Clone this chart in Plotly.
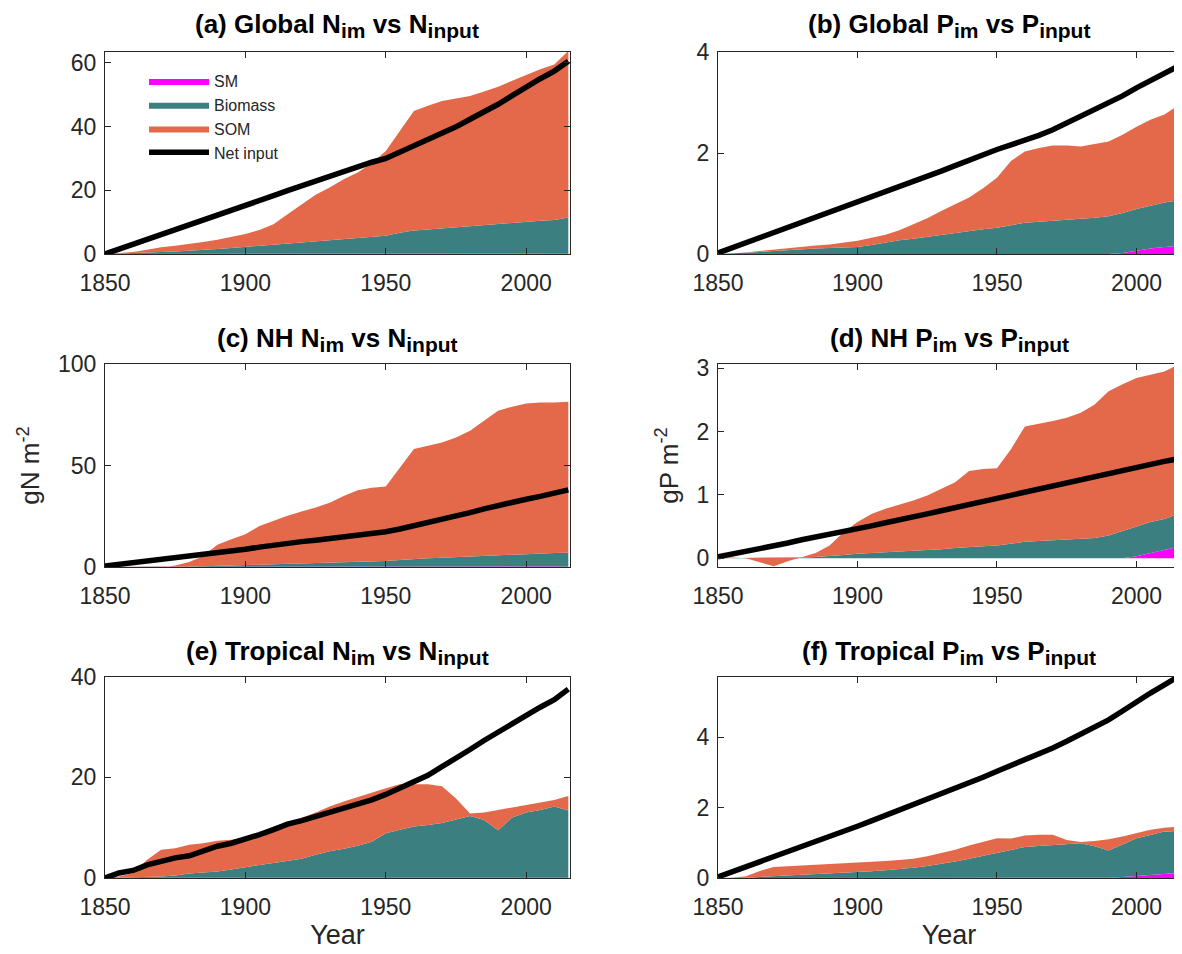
import plotly.graph_objects as go

YEARS = [1850, 1855, 1860, 1865, 1870, 1875, 1880, 1885, 1890, 1895,
         1900, 1905, 1910, 1915, 1920, 1925, 1930, 1935, 1940, 1945,
         1950, 1955, 1960, 1965, 1970, 1975, 1980, 1985, 1990, 1995,
         2000, 2005, 2010, 2015]

# (a) Global N
a_sm = [0, 0, 0, 0, 0, 0, 0, 0, 0, 0, 0.05, 0.05, 0.05, 0.05, 0.1, 0.1, 0.1, 0.1, 0.1, 0.1,
        0.1, 0.1, 0.1, 0.1, 0.1, 0.1, 0.1, 0.1, 0.1, 0.15, 0.15, 0.2, 0.2, 0.25]
a_bio = [0, 0.1, 0.2, 0.4, 0.6, 0.8, 1.0, 1.3, 1.6, 1.9, 2.2, 2.5, 2.8, 3.1, 3.4, 3.8, 4.2, 4.6, 5.0, 5.3,
         5.6, 6.6, 7.3, 7.6, 7.9, 8.2, 8.6, 9.0, 9.3, 9.6, 10.0, 10.2, 10.5, 11.2]
a_som = [0, 0.1, 0.4, 0.9, 1.5, 1.8, 2.1, 2.5, 2.9, 3.4, 4.0, 5.0, 6.5, 9.3, 12.1, 14.7, 16.6, 18.8, 20.5, 23.1,
         26.6, 31.9, 37.5, 38.8, 40.0, 40.5, 40.9, 41.9, 43.1, 44.6, 46.1, 47.6, 48.8, 52.3]
a_net = [0, 1.5, 3.1, 4.7, 6.3, 7.6, 8.9, 10.4, 12.0, 13.6, 15.1, 16.7, 18.3, 19.9, 21.4, 23.0, 24.5, 26.1, 27.7, 28.8,
         30.0, 31.9, 33.9, 35.7, 37.6, 39.9, 42.3, 44.6, 47.0, 49.7, 52.5, 55.0, 57.4, 60.5]

# (b) Global P
b_sm = [0] * 29 + [0.02, 0.07, 0.11, 0.14, 0.16]
b_bio = [0, 0.01, 0.02, 0.04, 0.06, 0.08, 0.09, 0.11, 0.12, 0.13, 0.14, 0.18, 0.23, 0.27, 0.30, 0.34, 0.38, 0.42, 0.46, 0.49,
         0.52, 0.57, 0.62, 0.64, 0.66, 0.67, 0.69, 0.72, 0.75, 0.79, 0.82, 0.85, 0.88, 0.90]
b_som = [0, 0, 0.01, 0.02, 0.03, 0.04, 0.05, 0.06, 0.07, 0.09, 0.12, 0.14, 0.15, 0.20, 0.29, 0.37, 0.47, 0.56, 0.66, 0.81,
         0.99, 1.27, 1.41, 1.46, 1.49, 1.48, 1.44, 1.46, 1.48, 1.55, 1.63, 1.70, 1.74, 1.88]
b_net = [0.02, 0.12, 0.22, 0.32, 0.42, 0.52, 0.62, 0.72, 0.82, 0.92, 1.02, 1.12, 1.22, 1.32, 1.42, 1.53, 1.64, 1.75, 1.86, 1.97,
         2.07, 2.16, 2.25, 2.35, 2.46, 2.59, 2.72, 2.85, 2.98, 3.13, 3.29, 3.43, 3.57, 3.72]

# (c) NH N
c_sm = [0, 0, 0, 0, 0.2, 0.2, 0.2] + [0.3] * 27
c_bio = [0, 0, 0, 0, 0, 0, 0.1, 0.1, 0.2, 0.4, 0.6, 0.8, 1.0, 1.2, 1.4, 1.6, 1.8, 2.0, 2.2, 2.4,
         2.6, 3.2, 3.7, 4.0, 4.3, 4.6, 4.9, 5.3, 5.7, 6.0, 6.3, 6.5, 6.6, 6.7]
c_som = [0, 0, 0, -0.5, -0.6, 0.6, 2.2, 5.0, 10.4, 13.0, 15.2, 19.1, 21.4, 23.7, 25.6, 27.4, 29.6, 32.7, 35.3, 36.4,
         36.7, 45.5, 54.1, 55.4, 56.7, 58.9, 61.9, 66.4, 71.0, 72.7, 74.0, 74.2, 74.1, 74.4]
c_net = [0.5, 1.3, 2.1, 3.0, 3.8, 4.5, 5.1, 5.9, 6.7, 7.7, 8.7, 9.8, 10.9, 11.7, 12.5, 13.2, 14.0, 14.8, 15.6, 16.5,
         17.4, 18.7, 20.2, 21.8, 23.5, 25.1, 26.8, 28.6, 30.4, 31.9, 33.4, 34.8, 36.2, 38.0]

# (d) NH P
d_sm = [0] * 19 + [0.01, 0.01] + [0] * 9 + [0.03, 0.08, 0.14, 0.18]
d_bio = [0, 0, 0, 0, 0, 0, 0.01, 0.02, 0.03, 0.05, 0.07, 0.08, 0.09, 0.10, 0.12, 0.13, 0.14, 0.16, 0.18, 0.18,
         0.19, 0.23, 0.26, 0.27, 0.28, 0.29, 0.30, 0.32, 0.36, 0.43, 0.48, 0.49, 0.48, 0.52]
d_som = [0, 0.01, 0, -0.07, -0.13, -0.05, 0.01, 0.06, 0.17, 0.36, 0.50, 0.62, 0.69, 0.74, 0.79, 0.86, 0.95, 1.04, 1.20, 1.22,
         1.22, 1.49, 1.82, 1.85, 1.89, 1.93, 2.00, 2.11, 2.28, 2.32, 2.34, 2.33, 2.33, 2.36]
d_net = [0.02, 0.06, 0.11, 0.15, 0.20, 0.24, 0.29, 0.33, 0.37, 0.42, 0.46, 0.51, 0.56, 0.60, 0.65, 0.70, 0.75, 0.80, 0.84, 0.89,
         0.94, 0.99, 1.04, 1.09, 1.14, 1.19, 1.24, 1.29, 1.34, 1.38, 1.43, 1.48, 1.53, 1.57]

# (e) Tropical N
e_sm = [0] + [0.05] * 33
e_bio = [0, 0, 0.05, 0.15, 0.25, 0.45, 0.85, 1.05, 1.25, 1.65, 2.15, 2.55, 2.95, 3.35, 3.75, 4.55, 5.25, 5.75, 6.35, 7.15,
         8.85, 9.55, 10.15, 10.45, 10.85, 11.55, 12.25, 11.45, 9.45, 11.95, 12.95, 13.45, 14.15, 13.35]
e_som = [0, 0.25, 0.9, 3.4, 5.3, 5.4, 5.7, 5.8, 6.1, 5.9, 5.9, 6.4, 7.2, 7.6, 8.1, 8.4, 8.9, 9.4, 9.7, 9.7,
         8.9, 9.0, 8.4, 8.1, 7.3, 4.2, 0.5, 1.5, 4.0, 2.0, 1.4, 1.5, 1.3, 2.9]
e_net = [0, 1.0, 1.5, 2.6, 3.3, 4.0, 4.4, 5.3, 6.3, 6.9, 7.7, 8.6, 9.6, 10.7, 11.4, 12.2, 13.0, 13.8, 14.7, 15.5,
         16.6, 17.8, 19.1, 20.4, 22.1, 23.7, 25.5, 27.3, 29.0, 30.6, 32.3, 33.9, 35.4, 37.5]

# (f) Tropical P
f_sm = [0] * 28 + [0.01, 0.03, 0.06, 0.09, 0.12, 0.14]
f_bio = [0, 0, 0.01, 0.03, 0.05, 0.06, 0.08, 0.10, 0.11, 0.13, 0.16, 0.19, 0.22, 0.25, 0.29, 0.34, 0.40, 0.47, 0.55, 0.63,
         0.71, 0.79, 0.88, 0.91, 0.94, 0.97, 0.99, 0.90, 0.77, 0.92, 1.07, 1.13, 1.20, 1.16]
f_som = [0, 0.01, 0.04, 0.17, 0.26, 0.27, 0.27, 0.27, 0.27, 0.27, 0.26, 0.26, 0.26, 0.26, 0.26, 0.28, 0.30, 0.33, 0.37, 0.40,
         0.42, 0.33, 0.33, 0.32, 0.29, 0.11, 0.03, 0.15, 0.32, 0.23, 0.15, 0.15, 0.11, 0.16]
f_net = [0.03, 0.17, 0.32, 0.46, 0.61, 0.75, 0.89, 1.04, 1.18, 1.33, 1.47, 1.62, 1.77, 1.92, 2.07, 2.22, 2.38, 2.54, 2.70, 2.86,
         3.03, 3.19, 3.36, 3.52, 3.69, 3.88, 4.07, 4.27, 4.49, 4.74, 5.01, 5.25, 5.48, 5.72]

SUB = '<sub><span style="font-size:21px">%s</span></sub>'
TITLES = ["(a) Global N" + SUB % "im" + " vs N" + SUB % "input",
          "(b) Global P" + SUB % "im" + " vs P" + SUB % "input",
          "(c) NH N" + SUB % "im" + " vs N" + SUB % "input",
          "(d) NH P" + SUB % "im" + " vs P" + SUB % "input",
          "(e) Tropical N" + SUB % "im" + " vs N" + SUB % "input",
          "(f) Tropical P" + SUB % "im" + " vs P" + SUB % "input"]
SERIES_NAMES = ["SM", "Biomass", "SOM", "Net input"]
X_TICKS = [1850, 1900, 1950, 2000]
Y_TICKS = [[0, 20, 40, 60], [0, 2, 4], [0, 50, 100], [0, 1, 2, 3], [0, 20, 40], [0, 2, 4]]
Y_RANGES = [[0, 63.4], [0, 4], [0, 100], [-0.14, 3.07], [0, 40], [0, 5.72]]
Y_TITLES = [None, None, "gN m<sup>-2</sup>", "gP m<sup>-2</sup>", None, None]
X_TITLES = [None, None, None, None, "Year", "Year"]

PANELS = [(a_sm, a_bio, a_som, a_net), (b_sm, b_bio, b_som, b_net),
          (c_sm, c_bio, c_som, c_net), (d_sm, d_bio, d_som, d_net),
          (e_sm, e_bio, e_som, e_net), (f_sm, f_bio, f_som, f_net)]

COLORS = ["#FF00FF", "#3B7F80", "#E4694A"]
OFF = 8  # page body margin
W, H = 1182 - OFF, 954 - OFF
def px_x(a, b):
    return [(a - OFF) / W, (b - OFF) / W]
def px_y(top, bottom):
    return [1 - (bottom - OFF) / H, 1 - (top - OFF) / H]
XDOM = [px_x(105, 570), px_x(718, 1180)]
YDOM = [px_y(52, 254), px_y(364, 567), px_y(676.5, 878)]
TITLE_SHIFT = [8, 6, 6]
FONT = "Liberation Sans, Arial, Helvetica, sans-serif"
AXC = "#262626"

fig = go.Figure()
layout = dict(width=W, height=H, margin=dict(l=0, r=0, t=0, b=0, autoexpand=False),
              plot_bgcolor="white", paper_bgcolor="white",
              font=dict(family=FONT, size=23, color=AXC), showlegend=True)
annotations = []

for i, (sm, bio, som, net) in enumerate(PANELS):
    r, c = divmod(i, 2)
    sfx = "" if i == 0 else str(i + 1)
    xa, ya = "x" + sfx, "y" + sfx
    show = (i == 0)
    for name, vals, col in zip(SERIES_NAMES[:3], (sm, bio, som), COLORS):
        fig.add_trace(go.Scatter(x=YEARS, y=vals, name=name, stackgroup="s%d" % i,
                                 mode="lines", line=dict(width=0, color=col),
                                 fillcolor=col, xaxis=xa, yaxis=ya,
                                 showlegend=show, legendgroup=name))
    fig.add_trace(go.Scatter(x=YEARS, y=net, name=SERIES_NAMES[3], mode="lines",
                             line=dict(color="black", width=5.5), xaxis=xa, yaxis=ya,
                             showlegend=show, legendgroup=SERIES_NAMES[3]))
    common = dict(showline=True, linecolor=AXC, linewidth=1, mirror="ticks",
                  ticks="inside", ticklen=6, tickcolor=AXC, showgrid=False,
                  zeroline=False, automargin=False,
                  tickfont=dict(size=23, family=FONT, color=AXC))
    layout["xaxis" + sfx] = dict(domain=XDOM[c], anchor=ya, range=[1850, 2015.6],
                                 tickvals=X_TICKS, ticklabelstandoff=8, **common)
    if X_TITLES[i]:
        layout["xaxis" + sfx]["title"] = dict(text=X_TITLES[i], font=dict(size=27, family=FONT, color=AXC), standoff=2)
    layout["yaxis" + sfx] = dict(domain=YDOM[r], anchor=xa, range=Y_RANGES[i],
                                 tickvals=Y_TICKS[i], ticklabelstandoff=3, **common)
    if Y_TITLES[i]:
        layout["yaxis" + sfx]["title"] = dict(text=Y_TITLES[i], font=dict(size=26, family=FONT, color=AXC), standoff=10)
    annotations.append(dict(text="<b>" + TITLES[i] + "</b>", xref="paper", yref="paper",
                            x=sum(XDOM[c]) / 2, y=YDOM[r][1], xanchor="center", yanchor="bottom",
                            yshift=TITLE_SHIFT[r], showarrow=False,
                            font=dict(size=26, family=FONT, color="black")))

layout["annotations"] = annotations
layout["legend"] = dict(x=(144 - OFF) / W, y=1 - (64 - OFF) / H, xanchor="left", yanchor="top",
                        traceorder="normal", bgcolor="rgba(255,255,255,0)",
                        font=dict(size=16, family=FONT, color=AXC),
                        itemwidth=60, tracegroupgap=0)
fig.update_layout(**layout)
fig.write_html("out.html")
